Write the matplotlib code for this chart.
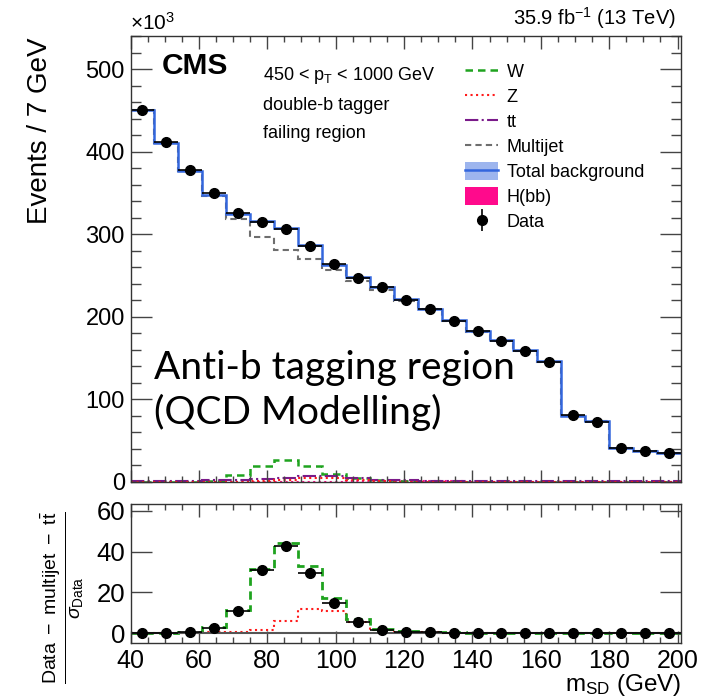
import matplotlib
matplotlib.use("Agg")
import matplotlib.pyplot as plt
import numpy as np
from matplotlib.lines import Line2D
from matplotlib.patches import Patch
from matplotlib.ticker import MultipleLocator

plt.rcParams['font.family'] = ['Liberation Sans', 'DejaVu Sans']
plt.rcParams['mathtext.fontset'] = 'custom'
plt.rcParams['mathtext.rm'] = 'Liberation Sans'
plt.rcParams['mathtext.it'] = 'Liberation Sans:italic'
plt.rcParams['mathtext.bf'] = 'Liberation Sans:bold'
plt.rcParams['hatch.color'] = '#3a68d8'

# binning of the soft-drop mass (GeV)
edges = np.arange(40, 202, 7)
centers = edges[:-1] + 3.5

# top panel, events in units of 10^3
data_k = [450, 412, 378, 350, 326, 315, 306, 286, 264, 247, 236, 220, 209,
          195, 183, 171, 159, 145, 81, 73, 41, 37.5, 35]
total_k = [451, 411, 377, 348, 325, 316, 307, 287, 263, 248, 236, 221, 210,
           196, 183, 172, 160, 146, 80, 74, 41, 38, 35.5]
multijet_k = [450, 410, 376, 346, 318, 297, 281, 270, 257, 243, 233, 219, 209,
              195, 182, 171, 159, 145, 80, 74, 41, 38, 35.5]
w_k = [0, 0, 0.3, 1, 8, 19, 27, 19, 10, 5, 2, 1, 0.5, 0.3, 0.2, 0, 0, 0, 0, 0, 0, 0, 0]
z_k = [0, 0, 0, 0, 0.3, 1, 3, 5, 5, 2.5, 1, 0.3, 0.2, 0, 0, 0, 0, 0, 0, 0, 0, 0, 0]
tt_k = [1, 1, 1.5, 2, 3, 4, 5, 7, 7, 5, 3, 2, 1.5, 1, 1, 1, 1, 1, 1, 1, 1, 1, 1]
hbb_k = [0.1, 0.1, 0.1, 0.1, 0.2, 0.3, 0.4, 0.5, 0.6, 0.8, 1.0, 1.1, 1.0, 0.8,
         0.5, 0.3, 0.2, 0.1, 0.1, 0.1, 0.1, 0.1, 0.1]

# bottom panel, (data - multijet - ttbar) / sigma_data
ratio_data = [0, 0.1, 0.3, 2.6, 11, 30.8, 42.6, 29.5, 14.7, 5.6, 1.5, 0.5, 0.5,
              0, -0.1, -0.1, 0, 0, -0.1, 0.2, 0, -0.1, -0.1]
ratio_w = [0, 0, 0.5, 2.8, 11.2, 31.6, 44.2, 33, 17.4, 7, 2, 1, 0.5, 0.3, 0.1,
           0, 0, 0, 0, 0, 0, 0, 0]
ratio_z = [0, 0, 0, 0.3, 0.3, 1.5, 6, 11.7, 11, 5.5, 1.4, 0.5, 0.3, 0, 0, 0,
           0, 0, 0, 0, 0, 0, 0]

c_w = '#1fa31f'
c_z = '#ff1a1a'
c_tt = '#7a1a8a'
c_mj = '#6e6e6e'
c_tot = '#3366dd'
c_h = '#ff0a8c'

W, H = 718, 700
fig = plt.figure(figsize=(W / 100, H / 100), dpi=100)
ax1 = fig.add_axes([130.5 / W, 1 - 482 / H, 550.5 / W, 446 / H])
ax2 = fig.add_axes([130.5 / W, 1 - 643 / H, 550.5 / W, 139 / H])

# ---- top panel
ax1.stairs(hbb_k, edges, baseline=None, color=c_h, lw=1.5, ls=':')
ax1.stairs(w_k, edges, baseline=None, color=c_w, lw=1.8, ls=(0, (3, 2)))
ax1.stairs(tt_k, edges, baseline=None, color=c_tt, lw=1.5, ls='-.')
ax1.stairs(z_k, edges, baseline=None, color=c_z, lw=1.5, ls=':')
ax1.stairs(multijet_k, edges, baseline=None, color=c_mj, lw=1.5, ls=(0, (3, 2)))
ax1.stairs(total_k, edges, baseline=None, color=c_tot, lw=1.8)
ax1.errorbar(centers, data_k, xerr=3.5, fmt='o', color='k', ms=7, elinewidth=1.2,
             capsize=0)

ax1.set_xlim(40, 201)
ax1.set_ylim(0, 540)
ax1.xaxis.set_major_locator(MultipleLocator(20))
ax1.xaxis.set_minor_locator(MultipleLocator(5))
ax1.yaxis.set_major_locator(MultipleLocator(100))
ax1.yaxis.set_minor_locator(MultipleLocator(20))
ax1.tick_params(which='both', direction='in', top=True, right=True, color='#444444')
ax1.tick_params(axis='y', which='major', length=15, width=1, labelsize=17, pad=4)
ax1.tick_params(axis='y', which='minor', length=7.5, width=1)
ax1.tick_params(axis='x', which='major', length=9, width=1, labelbottom=False)
ax1.tick_params(axis='x', which='minor', length=4.5, width=1)

fig.text(40 / W, 1 - 37 / H, 'Events / 7 GeV', rotation=90, ha='center', va='top',
         fontsize=20)
fig.text(130 / W, 1 - 30 / H, r'$\times$10$^{3}$', ha='left', va='baseline', fontsize=15)
fig.text(676 / W, 1 - 25 / H, r'35.9 fb$^{-1}$ (13 TeV)', ha='right', va='baseline',
         fontsize=14.5)
fig.text(162 / W, 1 - 66 / H, 'CMS', ha='left', va='center', fontsize=21.5,
         fontweight='bold')
fig.text(263 / W, 1 - 76 / H, r'450 < p$_{\mathrm{T}}$ < 1000 GeV', ha='left',
         va='center', fontsize=13)
fig.text(263 / W, 1 - 106 / H, 'double-b tagger', ha='left', va='center', fontsize=13)
fig.text(263 / W, 1 - 134 / H, 'failing region', ha='left', va='center', fontsize=13)

fig.text(154 / W, 1 - 350 / H, 'Anti-b tagging region\n(QCD Modelling)', ha='left',
         va='top', fontsize=28, family=['Lato', 'DejaVu Sans'], linespacing=1.25)

h_tot = (Patch(facecolor='#9db5ee', edgecolor='none', hatch='.....'),
         Line2D([], [], color=c_tot, lw=1.8))
h_data = (Line2D([], [], color='k', marker='|', ms=16, ls='none', mew=1.2),
          Line2D([], [], color='k', marker='o', ms=7, ls='none'))
handles = [Line2D([], [], color=c_w, lw=1.8, ls=(0, (3, 2))),
           Line2D([], [], color=c_z, lw=1.5, ls=':'),
           Line2D([], [], color=c_tt, lw=1.5, ls='-.'),
           Line2D([], [], color=c_mj, lw=1.5, ls=(0, (3, 2))),
           h_tot,
           Patch(facecolor=c_h, edgecolor='none'),
           h_data]
labels = ['W', 'Z', 'tt', 'Multijet', 'Total background', 'H(bb)', 'Data']
ax1.legend(handles, labels, loc='upper left', bbox_to_anchor=(465 / W, 1 - 62 / H),
           bbox_transform=fig.transFigure, frameon=False, fontsize=13,
           borderpad=0, borderaxespad=0, handlelength=1.85, handleheight=1.15,
           handletextpad=0.45, labelspacing=0.33)

# ---- bottom panel
ax2.axhline(0, color='#555555', lw=1.5)
ax2.stairs(ratio_z, edges, baseline=None, color=c_z, lw=1.5, ls=':')
ax2.stairs(ratio_w, edges, baseline=None, color=c_w, lw=2.0, ls=(0, (3, 2)))
ax2.errorbar(centers, ratio_data, xerr=3.5, yerr=1, fmt='o', color='k', ms=7,
             elinewidth=1.2, capsize=0)
ax2.set_xlim(40, 201)
ax2.set_ylim(-4.9, 63.4)
ax2.xaxis.set_major_locator(MultipleLocator(20))
ax2.xaxis.set_minor_locator(MultipleLocator(5))
ax2.yaxis.set_major_locator(MultipleLocator(20))
ax2.tick_params(which='both', direction='in', top=True, right=True, color='#444444')
ax2.tick_params(axis='y', which='major', length=15, width=1, labelsize=18.5, pad=4)
ax2.tick_params(axis='x', which='major', length=9, width=1, labelsize=18, pad=4)
ax2.tick_params(axis='x', which='minor', length=4.5, width=1)

fig.text(681 / W, 1 - 691 / H, r'm$_{\mathrm{SD}}$ (GeV)', ha='right', va='baseline',
         fontsize=17.5)
fig.text(62 / W, 1 - 598 / H,
         r'$\frac{\mathrm{Data\ -\ multijet\ -\ t\bar{t}}}{\sigma_{\mathrm{Data}}}$',
         rotation=90, ha='center', va='center', fontsize=20)

for ax in (ax1, ax2):
    for s in ax.spines.values():
        s.set_color('#333333')
        s.set_linewidth(1.0)

fig.savefig('out.png', dpi=100)
